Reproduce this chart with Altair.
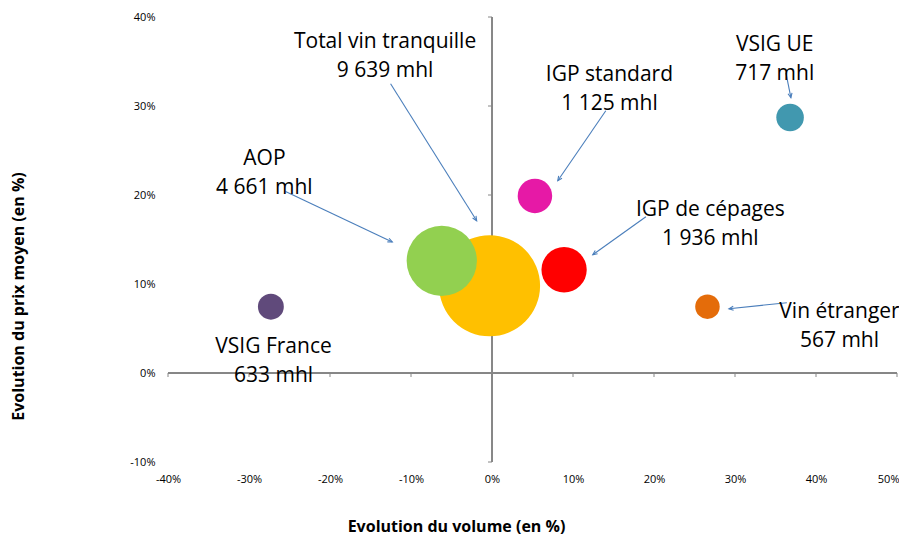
import math
import altair as alt
import pandas as pd

# ---- data ----
categories = ["Total vin tranquille", "AOP", "IGP standard", "IGP de cépages",
              "VSIG UE", "VSIG France", "Vin étranger"]
volume_change = [-0.3, -6.2, 5.3, 8.9, 36.8, -27.3, 26.6]     # %
price_change = [9.8, 12.6, 19.9, 11.6, 28.7, 7.45, 7.45]      # %
volume_mhl = [9639, 4661, 1125, 1936, 717, 633, 567]
colors = ["#FFC000", "#92D050", "#E619A6", "#FF0000", "#4198AF", "#604A7B", "#E46C0A"]

x_ticks = [-40, -30, -20, -10, 0, 10, 20, 30, 40, 50]
y_ticks = [-10, 0, 10, 20, 30, 40]

# annotation anchors (data units)
label_x = [-13.2, -28.1, 14.5, 26.96, 34.9, -26.97, 42.9]
label_y = [37.2, 24.1, 33.5, 18.3, 36.9, 2.96, 6.9]
arrow_x1 = [-12.52, -25.49, 14.05, 19.0, 36.28, None, 36.4]
arrow_y1 = [32.5, 20.4, 29.47, 17.56, 33.74, None, 7.9]
arrow_x2 = [-1.89, -12.31, 8.12, 12.44, 36.9, None, 29.25]
arrow_y2 = [17.1, 14.72, 21.6, 13.29, 30.93, None, 7.22]

# ---- layout ----
W, H = 729, 445
X_DOM = [-40, 50]
Y_DOM = [-10, 40]
FONT = "Open Sans"
ARROW = "#4A7EBB"
AXIS = "#868686"
px_x = W / (X_DOM[1] - X_DOM[0])
px_y = H / (Y_DOM[1] - Y_DOM[0])


def fmt(v):
    return f"{v:,}".replace(",", " ")


bubbles = pd.DataFrame({
    "cat": categories, "x": volume_change, "y": price_change, "vol": volume_mhl,
})
labels = pd.DataFrame({
    "text": [f"{c}\n{fmt(v)} mhl" for c, v in zip(categories, volume_mhl)],
    "x": label_x, "y": label_y,
})
arrows = pd.DataFrame({
    "x1": arrow_x1, "y1": arrow_y1, "x2": arrow_x2, "y2": arrow_y2,
}).dropna()
arrows["angle"] = [
    (math.degrees(math.atan2((r.x2 - r.x1) * px_x, (r.y2 - r.y1) * px_y)) + 360) % 360
    for r in arrows.itertuples()
]

xs = alt.Scale(domain=X_DOM, nice=False, zero=False)
ys = alt.Scale(domain=Y_DOM, nice=False, zero=False)

x_axis = alt.Axis(values=x_ticks, labelExpr="datum.value + '%'", domain=False, ticks=False,
                  grid=False, labelPadding=11, labelFontSize=11, labelFont=FONT,
                  labelColor="#000000", title="Evolution du volume (en %)",
                  labelAlign={"condition": {"test": f"datum.value == {X_DOM[1]}", "value": "right"},
                              "value": "center"},
                  labelOffset={"condition": {"test": f"datum.value == {X_DOM[1]}", "value": 2},
                               "value": 0},
                  titleFont=FONT, titleFontSize=16, titleFontWeight="bold",
                  titleColor="#000000", titleX=288, titleY=64, titleAlign="center",
                  titleBaseline="middle", labelFlush=False)
y_axis = alt.Axis(values=y_ticks, labelExpr="datum.value + '%'", domain=False, ticks=False,
                  grid=False, labelPadding=13, labelFontSize=11, labelFont=FONT,
                  labelColor="#000000", title="Evolution du prix moyen (en %)",
                  titleFont=FONT, titleFontSize=16, titleFontWeight="bold",
                  titleColor="#000000", titleX=-150, titleY=279, titleAlign="center",
                  titleBaseline="middle", titleAngle=270, labelFlush=False)

xt = pd.DataFrame({"v": x_ticks})
yt = pd.DataFrame({"v": y_ticks})

# axis lines crossing at zero
xline = alt.Chart(xt).mark_rule(color=AXIS, strokeWidth=1).encode(
    x=alt.datum(X_DOM[0], scale=xs, axis=x_axis),
    x2=alt.datum(X_DOM[1]),
    y=alt.datum(0, scale=ys, axis=y_axis),
)
yline = alt.Chart(yt).mark_rule(color=AXIS, strokeWidth=1).encode(
    y=alt.datum(Y_DOM[0], scale=ys),
    y2=alt.datum(Y_DOM[1]),
    x=alt.datum(0, scale=xs),
)
xtick_marks = alt.Chart(xt).mark_rule(color=AXIS, strokeWidth=1, y2Offset=4).encode(
    x=alt.X("v:Q", scale=xs),
    y=alt.datum(0, scale=ys),
    y2=alt.datum(0),
)
ytick_marks = alt.Chart(yt).mark_rule(color=AXIS, strokeWidth=1, x2Offset=-4).encode(
    y=alt.Y("v:Q", scale=ys),
    x=alt.datum(0, scale=xs),
    x2=alt.datum(0),
)

circles = alt.Chart(bubbles).mark_circle(opacity=1).encode(
    x=alt.X("x:Q", scale=xs),
    y=alt.Y("y:Q", scale=ys),
    size=alt.Size("vol:Q", scale=alt.Scale(domain=[0, 9639], range=[0, math.pi * 57 ** 2]),
                  legend=None),
    color=alt.Color("cat:N", scale=alt.Scale(domain=categories, range=colors), legend=None),
    order=alt.Order("ord:Q"),
).transform_window(ord="row_number()")

arrow_lines = alt.Chart(arrows).mark_rule(color=ARROW, strokeWidth=1.1).encode(
    x=alt.X("x1:Q", scale=xs), y=alt.Y("y1:Q", scale=ys),
    x2="x2:Q", y2="y2:Q",
)
arrow_heads = alt.Chart(arrows).mark_point(
    shape="M-0.45,1L0,0L0.45,1", filled=False, color=ARROW, strokeWidth=1.1, size=81, opacity=1,
).encode(
    x=alt.X("x2:Q", scale=xs), y=alt.Y("y2:Q", scale=ys),
    angle=alt.Angle("angle:Q", scale=None),
)

texts = alt.Chart(labels).mark_text(
    font=FONT, fontSize=21, lineBreak="\n", lineHeight=29, align="center",
    baseline="middle", color="#000000",
).encode(
    x=alt.X("x:Q", scale=xs), y=alt.Y("y:Q", scale=ys), text="text:N",
)

chart = alt.layer(
    xline, yline, xtick_marks, ytick_marks, circles, arrow_lines, arrow_heads, texts
).properties(
    width=W, height=H,
    autosize=alt.AutoSizeParams(type="none"),
    padding={"left": 160, "top": 9, "right": 2, "bottom": 75},
    background="white",
).configure_view(stroke=None)

chart.save("out.html", embed_options={"renderer": "svg", "actions": False})
